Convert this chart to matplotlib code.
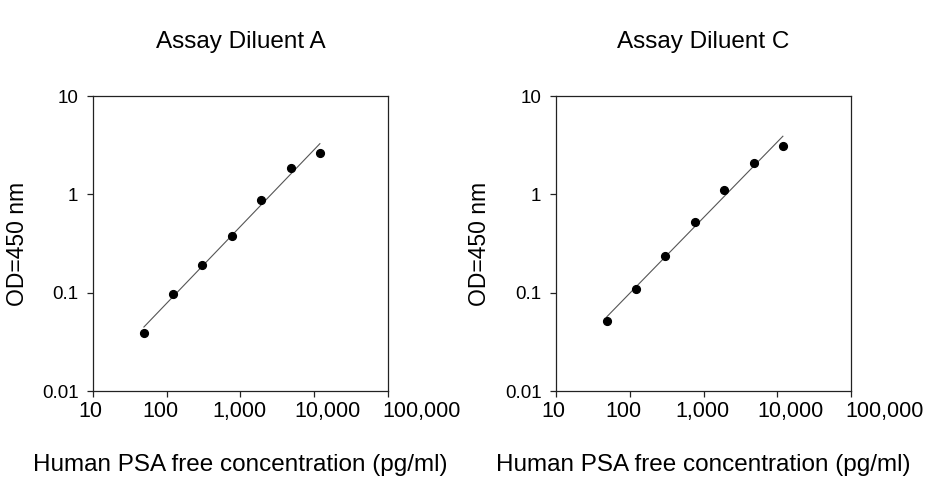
import numpy as np
import matplotlib
matplotlib.use("Agg")
import matplotlib.pyplot as plt
import matplotlib.transforms as mtransforms

plt.rcParams['font.family'] = ['Liberation Sans', 'DejaVu Sans']

# Data
concentration = [49, 122, 305, 763, 1907, 4768, 11920]
od_diluent_a = [0.039, 0.098, 0.193, 0.380, 0.869, 1.85, 2.65]
od_diluent_c = [0.052, 0.109, 0.238, 0.523, 1.115, 2.10, 3.10]
titles = ["Assay Diluent A", "Assay Diluent C"]
x_ticks = [10, 100, 1000, 10000, 100000]
x_tick_labels = ["10", "100", "1,000", "10,000", "100,000"]
y_ticks = [0.01, 0.1, 1, 10]
y_tick_labels = ["0.01", "0.1", "1", "10"]
x_label = "Human PSA free concentration (pg/ml)"
y_label = "OD=450 nm"

# horizontal nudges (px) of the x tick labels, as laid out in the original
x_label_shift = [-3, -6.5, -1.5, 13.5, 33.7]

fig = plt.figure(figsize=(9.26, 4.8), dpi=100)
W, H = 926, 480
boxes = [(93, 96, 388, 391), (556, 96, 851, 391)]

for (x0, y0, x1, y1), title, od in zip(boxes, titles, [od_diluent_a, od_diluent_c]):
    ax = fig.add_axes([x0 / W, (H - y1) / H, (x1 - x0) / W, (y1 - y0) / H])
    ax.set_xscale('log')
    ax.set_yscale('log')
    ax.set_xlim(10, 100000)
    ax.set_ylim(0.01, 10)
    lx = np.log10(concentration)
    ly = np.log10(od)
    slope, intercept = np.polyfit(lx, ly, 1)
    fx = np.array([lx[0], lx[-1]])
    ax.plot(10 ** fx, 10 ** (slope * fx + intercept), color='#555555', lw=0.8, zorder=2)
    ax.plot(concentration, od, 'o', color='black', markersize=5.6, zorder=3)
    ax.set_xticks(x_ticks)
    ax.set_xticklabels(x_tick_labels)
    ax.set_yticks(y_ticks)
    ax.set_yticklabels(y_tick_labels)
    ax.minorticks_off()
    ax.tick_params(direction='out', length=4.5, width=0.9, color='#222222')
    ax.tick_params(axis='x', labelsize=15.5, pad=3)
    ax.tick_params(axis='y', labelsize=13.5, pad=6)
    for lab, dx in zip(ax.get_xticklabels(), x_label_shift):
        lab.set_transform(lab.get_transform() +
                          mtransforms.ScaledTranslation(dx / 100, 0, fig.dpi_scale_trans))
    for s in ax.spines.values():
        s.set_linewidth(0.9)
        s.set_color('#222222')
    ax.set_xlabel(x_label, fontsize=17.5)
    ax.xaxis.set_label_coords(0.5, (y1 - 465) / (y1 - y0))
    ax.xaxis.label.set_va('center')
    ax.set_ylabel(y_label, fontsize=16.5)
    ax.yaxis.set_label_coords(-76 / (x1 - x0), 0.5)
    ax.yaxis.label.set_va('center')
    ax.text(0.5, (y1 - 42) / (y1 - y0), title, transform=ax.transAxes,
            ha='center', va='center', fontsize=17.5)

fig.savefig("out.png", dpi=100, facecolor='white')
